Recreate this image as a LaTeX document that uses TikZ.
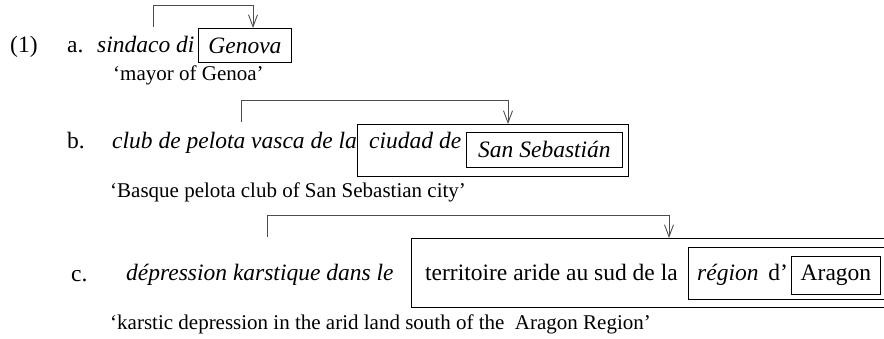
\documentclass[tikz,border=0pt]{standalone}
\usepackage{fontspec}
\setmainfont{Liberation Serif}
\usepackage{tikz}
\usetikzlibrary{arrows.meta}
\usetikzlibrary{calc}

\begin{document}
\begin{tikzpicture}[x=1pt,y=-1pt,
    every node/.style={font=\fontsize{23.5}{28}\selectfont, inner sep=0pt},
    txt/.style={anchor=base west},
    gloss/.style={anchor=base west, font=\fontsize{21}{25}\selectfont},
    box/.style={draw, line width=0.9pt, anchor=north west},
    link/.style={draw=black!70, line width=0.9pt, -{Straight Barb[length=12pt,width=9pt]}}]
    \useasboundingbox (0,0) rectangle (884,339);

    % Exemple (1a)
    \node[txt] (num) at (10,53) {(1)};
    \node[txt] (la) at (67,53) {a.};
    \node[txt] (ita) at (97,53) {\textit{sindaco di}};
    \node[box, minimum width=93, minimum height=34] (genova) at (198,28) {\textit{Genova}};
    \node[gloss] (gla) at (113,81) {‘mayor of Genoa’};

    % Fleche (1a)
    \coordinate (srcA) at (153,27);
    \draw[link] (srcA) -- ++(0,-22) -| ($(genova.north west)+(55,0)$);

    % Exemple (1b)
    \node[txt] (lb) at (67,149) {b.};
    \node[txt] (itb) at (112,149) {\textit{club de pelota vasca de la}};
    \node[box, minimum width=271, minimum height=52] (outb) at (357,124) {};
    \node[txt] (ciudad) at (369,149) {\textit{ciudad de}};
    \node[box, minimum width=156, minimum height=35] (sansebas) at (466,132) {\textit{San Sebastián}};
    \node[gloss] (glb) at (110,198) {‘Basque pelota club of San Sebastian city’};

    % Fleche (1b)
    \coordinate (srcB) at (241,122);
    \draw[link] (srcB) -- ++(0,-22) -| ($(outb.north west)+(151,0)$);

    % Exemple (1c)
    \node[txt] (lc) at (71,282) {c.};
    \node[txt] (itc) at (126,281) {\textit{dépression karstique dans le}};
    \node[box, minimum width=520, minimum height=69] (outc) at (411,238) {};
    \node[txt] (terr) at (425,281) {territoire aride au sud de la};
    \node[box, minimum width=240, minimum height=52] (inc) at (688,247) {};
    \node[txt] (region) at (697,281) {\textit{région}\, d’};
    \node[box, minimum width=89, minimum height=38] (aragon) at (791,256) {Aragon};
    \node[gloss] (glc) at (110,329) {‘karstic depression in the arid land south of the\ \ Aragon Region’};

    % Fleche (1c)
    \coordinate (srcC) at (267,237);
    \draw[link] (srcC) -- ++(0,-22) -| ($(outc.north west)+(258,0)$);
\end{tikzpicture}
\end{document}
